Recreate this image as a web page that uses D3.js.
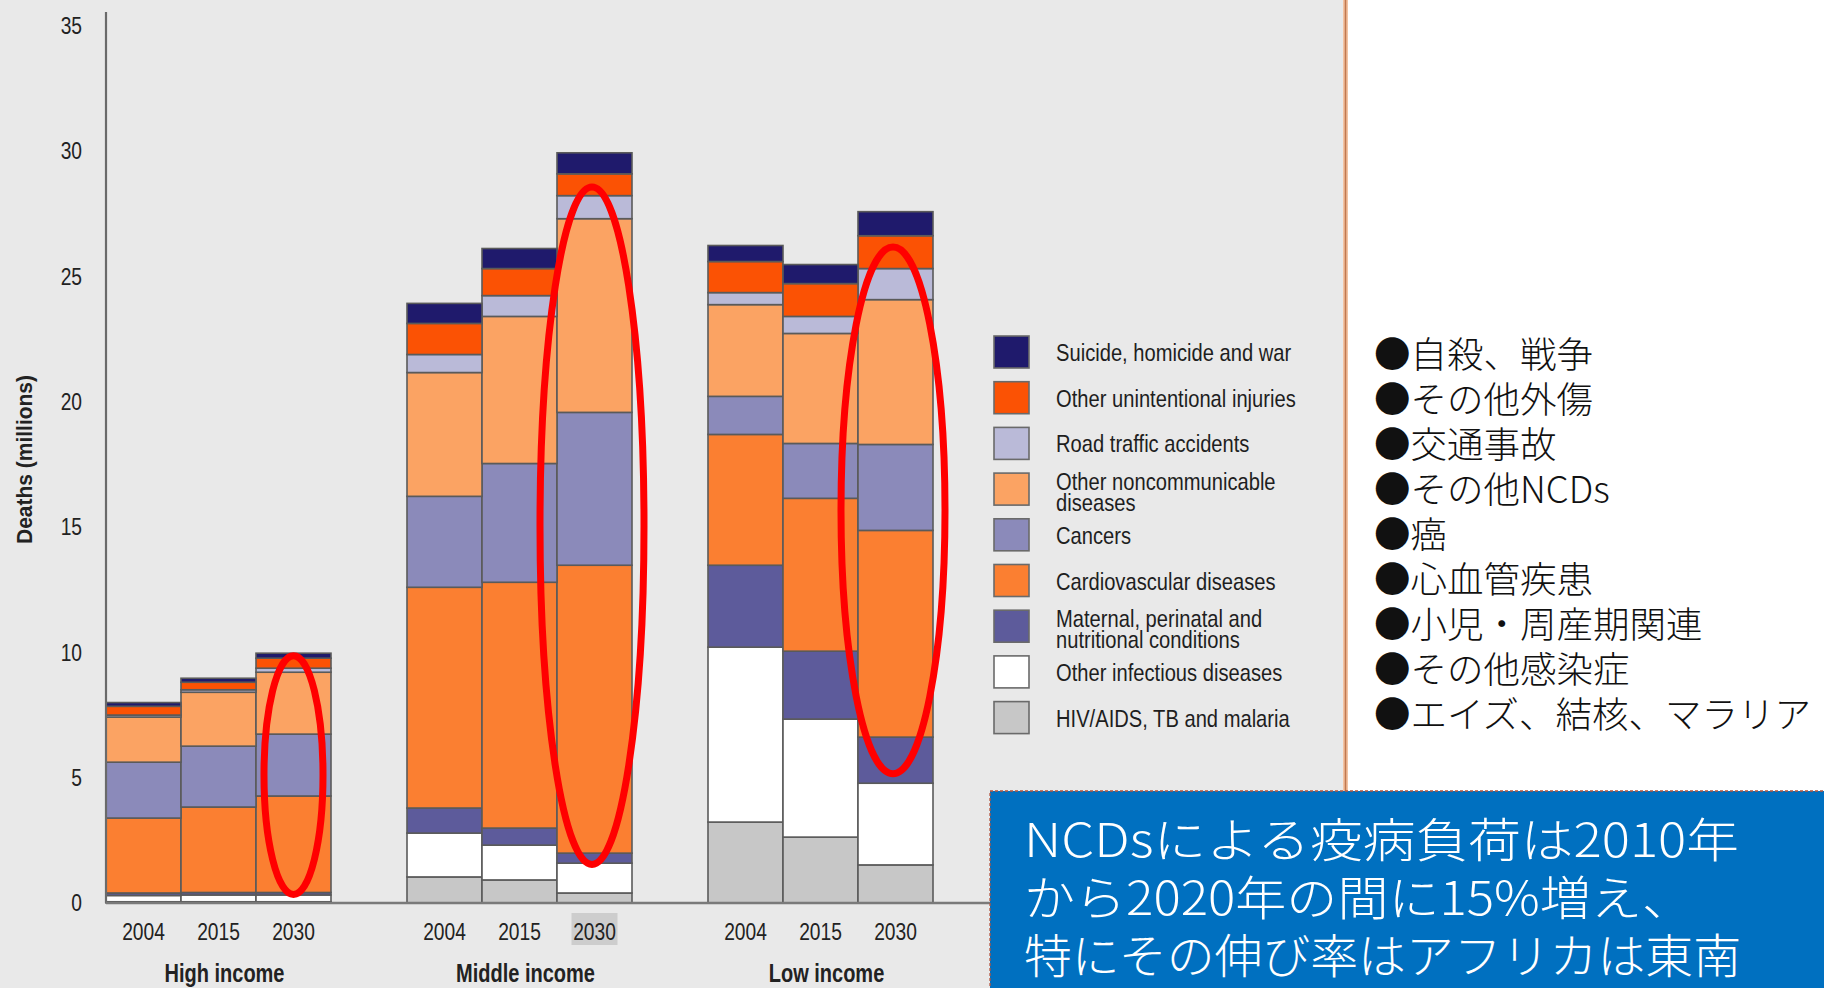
<!DOCTYPE html>
<html>
<head>
<meta charset="utf-8">
<script src="https://cdn.jsdelivr.net/npm/d3@7"></script>
<style>
  html, body { margin: 0; padding: 0; background: #ffffff; }
  svg { display: block; }
  .narrow { font-family: "Liberation Sans", Arial, sans-serif; }
  .jp { font-family: "Noto Sans CJK JP", "Noto Sans CJK SC", sans-serif; }
</style>
</head>
<body>
<svg id="chart" width="1824" height="988"></svg>
<script>
// ---------------- DATA ----------------
const groups = ["High income", "Middle income", "Low income"];
const years = ["2004", "2015", "2030"];
const yTicks = [0, 5, 10, 15, 20, 25, 30, 35];

// stacking order, bottom to top
const causeKeys = ["hiv", "otherInf", "maternal", "cardio", "cancers", "otherNcd", "road", "otherUnint", "suicide"];

// values in millions, order: High 2004/2015/2030, Middle 2004/2015/2030, Low 2004/2015/2030
const hiv        = [0.05, 0.05, 0.05, 1.04, 0.92, 0.40, 3.23, 2.63, 1.52];
const otherInf   = [0.25, 0.27, 0.27, 1.75, 1.39, 1.19, 6.98, 4.71, 3.26];
const maternal   = [0.10, 0.10, 0.10, 1.00, 0.68, 0.40, 3.27, 2.71, 1.84];
const cardio     = [2.99, 3.41, 3.85, 8.81, 9.81, 11.49, 5.22, 6.10, 8.25];
const cancers    = [2.23, 2.43, 2.47, 3.63, 4.74, 6.10, 1.52, 2.19, 3.43];
const otherNcd   = [1.80, 2.15, 2.47, 4.94, 5.87, 7.73, 3.66, 4.39, 5.78];
const road       = [0.08, 0.10, 0.16, 0.72, 0.83, 0.92, 0.48, 0.68, 1.24];
const otherUnint = [0.35, 0.30, 0.40, 1.24, 1.08, 0.87, 1.24, 1.31, 1.31];
const suicide    = [0.15, 0.16, 0.20, 0.80, 0.80, 0.84, 0.64, 0.76, 0.96];

// legend (top to bottom)
const legendKeys = ["suicide", "otherUnint", "road", "otherNcd", "cancers", "cardio", "maternal", "otherInf", "hiv"];
const legendLabels = [
  ["Suicide, homicide and war"],
  ["Other unintentional injuries"],
  ["Road traffic accidents"],
  ["Other noncommunicable", "diseases"],
  ["Cancers"],
  ["Cardiovascular diseases"],
  ["Maternal, perinatal and", "nutritional conditions"],
  ["Other infectious diseases"],
  ["HIV/AIDS, TB and malaria"]
];
const jpLabels = [
  "●自殺、戦争",
  "●その他外傷",
  "●交通事故",
  "●その他NCDs",
  "●癌",
  "●心血管疾患",
  "●小児・周産期関連",
  "●その他感染症",
  "●エイズ、結核、マラリア"
];
const noteLines = [
  "NCDsによる疫病負荷は2010年",
  "から2020年の間に15%増え、",
  "特にその伸び率はアフリカは東南"
];
// highlighted bars (red ellipses): value range covered
const highlights = [
  { group: "High income",   year: "2030", lo: 0.34, hi: 9.87 },
  { group: "Middle income", year: "2030", lo: 1.54, hi: 28.57 },
  { group: "Low income",    year: "2030", lo: 5.16, hi: 26.18 }
];

const colors = {
  suicide: "#1f1a6c",
  otherUnint: "#fb5204",
  road: "#babad8",
  otherNcd: "#fba363",
  cancers: "#8b8aba",
  cardio: "#fb7f31",
  maternal: "#5d5b9b",
  otherInf: "#ffffff",
  hiv: "#c7c7c7"
};

// ---------------- BUILD TABLE ----------------
const series = { hiv, otherInf, maternal, cardio, cancers, otherNcd, road, otherUnint, suicide };
const rows = [];
groups.forEach((g, gi) => years.forEach((yr, yi) => {
  const r = { group: g, year: yr };
  causeKeys.forEach(k => r[k] = series[k][gi * 3 + yi]);
  rows.push(r);
}));
const stacked = d3.stack().keys(causeKeys)(rows);

// ---------------- SCALES ----------------
const svg = d3.select("#chart");
const W = 1824, H = 988;
const NX = 0.8; // horizontal condensing for narrow text

const x0 = d3.scaleBand().domain(groups).range([106, 933]).paddingInner(76 / 301).paddingOuter(0);
const x1 = d3.scaleBand().domain(years).range([0, x0.bandwidth()]).padding(0);
const y = d3.scaleLinear().domain([0, 35]).range([903, 26]);

function narrow(parent, x, yy, str, size, opts = {}) {
  return parent.append("text").attr("class", "narrow")
    .attr("transform", `translate(${x},${yy}) scale(${opts.nx || NX},1)`)
    .attr("text-anchor", opts.anchor || "start")
    .attr("font-size", size)
    .attr("font-weight", opts.weight || "normal")
    .attr("fill", opts.fill || "#1e1e1e")
    .text(str);
}

// ---------------- BACKGROUND ----------------
svg.append("rect").attr("x", 0).attr("y", 0).attr("width", 1346).attr("height", H).attr("fill", "#e9e9e9");
svg.append("rect").attr("x", 1346).attr("y", 0).attr("width", W - 1346).attr("height", H).attr("fill", "#ffffff");
svg.append("line").attr("x1", 1345.5).attr("x2", 1345.5).attr("y1", 0).attr("y2", 792)
  .attr("stroke", "#f3c3a3").attr("stroke-width", 5);
svg.append("line").attr("x1", 1345.5).attr("x2", 1345.5).attr("y1", 0).attr("y2", 792)
  .attr("stroke", "#c07850").attr("stroke-width", 1.6);

// ---------------- BARS ----------------
const barG = svg.append("g");
stacked.forEach(layer => {
  barG.append("g").attr("fill", colors[layer.key])
    .selectAll("rect").data(layer).join("rect")
    .attr("x", d => x0(d.data.group) + x1(d.data.year))
    .attr("width", x1.bandwidth())
    .attr("y", d => y(d[1]))
    .attr("height", d => Math.max(0, y(d[0]) - y(d[1])))
    .attr("stroke", "#5a5a5a")
    .attr("stroke-width", 1.6);
});

// ---------------- AXES ----------------
svg.append("line").attr("x1", 106).attr("x2", 106).attr("y1", 12).attr("y2", y(0))
  .attr("stroke", "#6a6a6a").attr("stroke-width", 2.2);
svg.append("line").attr("x1", 106).attr("x2", 992).attr("y1", y(0)).attr("y2", y(0))
  .attr("stroke", "#7a7a7a").attr("stroke-width", 2.6);

const yAxis = svg.append("g").attr("transform", "translate(106,0)")
  .call(d3.axisLeft(y).tickValues(yTicks).tickSize(0).tickPadding(24));
yAxis.select(".domain").remove();
yAxis.selectAll(".tick text")
  .attr("class", "narrow").attr("font-size", 24).attr("fill", "#222")
  .attr("x", -24 / NX).attr("transform", `scale(${NX},1)`);

svg.append("text").attr("class", "narrow")
  .attr("transform", `translate(32,${(375 + 544) / 2}) rotate(-90)`)
  .attr("text-anchor", "middle").attr("font-weight", "bold").attr("font-size", 22)
  .attr("textLength", 169).attr("lengthAdjust", "spacingAndGlyphs")
  .attr("fill", "#222").text("Deaths (millions)");

// highlighted year label background (Middle 2030)
svg.append("rect")
  .attr("x", x0("Middle income") + x1("2030") + x1.bandwidth() / 2 - 23)
  .attr("y", 913).attr("width", 46).attr("height", 32).attr("fill", "#cdcdcd");

groups.forEach(g => {
  years.forEach(yr => {
    narrow(svg, x0(g) + x1(yr) + x1.bandwidth() / 2, 940, yr, 24, { anchor: "middle", fill: "#222" });
  });
  narrow(svg, x0(g) + x0.bandwidth() / 2 + 6, 982, g, 25, { anchor: "middle", weight: "bold", fill: "#222" });
});

// ---------------- RED ELLIPSES ----------------
highlights.forEach(h => {
  const cx = x0(h.group) + x1(h.year) + x1.bandwidth() / 2;
  const rx = h.group === "High income" ? 29.5 : 52;
  svg.append("ellipse")
    .attr("cx", h.group === "High income" ? cx : cx - 2.5)
    .attr("cy", (y(h.lo) + y(h.hi)) / 2)
    .attr("rx", rx).attr("ry", (y(h.lo) - y(h.hi)) / 2)
    .attr("fill", "none").attr("stroke", "#ff0000").attr("stroke-width", 7);
});

// ---------------- LEGEND ----------------
const legG = svg.append("g");
legendKeys.forEach((k, i) => {
  const cy = 352 + i * 45.7;
  legG.append("rect").attr("x", 994).attr("y", cy - 16).attr("width", 35).attr("height", 32)
    .attr("fill", colors[k]).attr("stroke", "#6a6a6a").attr("stroke-width", 1.6);
  const lines = legendLabels[i];
  if (lines.length === 1) {
    narrow(legG, 1056, cy + 9, lines[0], 24, { nx: 0.84 });
  } else {
    const t = narrow(legG, 1056, cy + 1, "", 24, { nx: 0.84 });
    t.append("tspan").attr("x", 0).attr("y", 0).text(lines[0]);
    t.append("tspan").attr("x", 0).attr("y", 21).text(lines[1]);
  }
});

// ---------------- JAPANESE LIST ----------------
const jpText = svg.append("text").attr("class", "jp")
  .attr("font-size", 36.5).attr("font-weight", 300).attr("fill", "#111");
jpLabels.forEach((s, i) => {
  jpText.append("tspan").attr("x", 1374).attr("y", 355 + i * 45 + 13).text(s);
});

// ---------------- NOTE BOX ----------------
svg.append("rect").attr("x", 990).attr("y", 791).attr("width", W - 990 + 2).attr("height", H - 791 + 2)
  .attr("fill", "#0070c0").attr("stroke", "#b5553e").attr("stroke-width", 1.3)
  .attr("stroke-dasharray", "3,2");
const noteWidths = [715, 669, 717];
noteLines.forEach((s, i) => {
  svg.append("text").attr("class", "jp")
    .attr("x", 1024).attr("y", 840 + i * 58 + 17)
    .attr("font-size", 47).attr("font-weight", 300).attr("fill", "#ffffff")
    .attr("textLength", noteWidths[i]).attr("lengthAdjust", "spacingAndGlyphs")
    .text(s);
});
</script>
</body>
</html>
